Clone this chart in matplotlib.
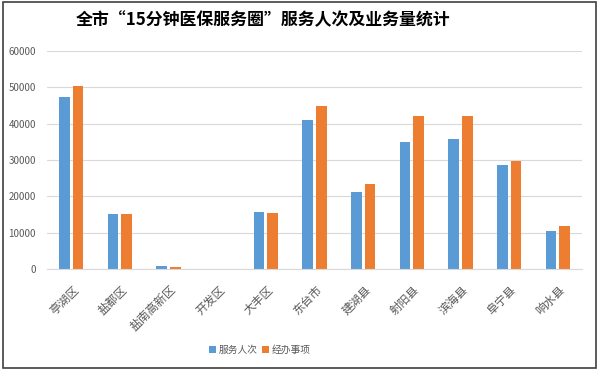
import numpy as np
import matplotlib.pyplot as plt
from matplotlib.patches import Rectangle

plt.rcParams['font.family'] = ['Noto Sans CJK SC', 'DejaVu Sans']

districts = ["亭湖区", "盐都区", "盐南高新区", "开发区", "大丰区", "东台市",
             "建湖县", "射阳县", "滨海县", "阜宁县", "响水县"]
service_count = [47300, 15100, 750, 0, 15650, 41050, 21100, 35000, 35800, 28550, 10400]
handled_items = [50350, 15100, 500, 0, 15400, 44850, 23450, 42150, 42150, 29700, 11850]
yticks = [0, 10000, 20000, 30000, 40000, 50000, 60000]

fig = plt.figure(figsize=(6, 3.71), dpi=100)
ax = fig.add_axes([47 / 600, 1 - 269 / 371, 535 / 600, 218 / 371])

x = np.arange(len(districts))
w = 0.22
ax.bar(x - 0.14, service_count, w, color="#5B9BD5", label="服务人次")
ax.bar(x + 0.14, handled_items, w, color="#ED7D31", label="经办事项")

ax.set_xlim(-0.5, len(districts) - 0.5)
ax.set_ylim(0, 60000)
ax.set_yticks(yticks)
ax.set_yticklabels([str(v) for v in yticks], fontsize=7, color="#595959")
ax.yaxis.grid(True, color="#d9d9d9", linewidth=0.8)
ax.set_axisbelow(True)
for s in ["top", "right", "left"]:
    ax.spines[s].set_visible(False)
ax.spines["bottom"].set_color("#d9d9d9")
ax.tick_params(length=0)
ax.tick_params(axis="y", pad=8)
ax.tick_params(axis="x", pad=10)

ax.set_xticks(x + 0.02)
ax.set_xticklabels(districts, rotation=45, ha="right", va="top",
                   rotation_mode="anchor", fontsize=8.5, color="#595959")

fig.text(263 / 600, 1 - 20 / 371, "全市“15分钟医保服务圈”服务人次及业务量统计",
         ha="center", va="center", fontsize=12.2, fontweight="bold", color="black")

fig.legend(loc="center", bbox_to_anchor=(260 / 600, 1 - 350 / 371), ncol=2,
           frameon=False, fontsize=7, handlelength=0.7, handleheight=0.7,
           columnspacing=0.4, handletextpad=0.3, labelcolor="#595959")

fig.patches.append(Rectangle((3 / 600, 3 / 371), 593 / 600, 366 / 371,
                             transform=fig.transFigure, fill=False,
                             edgecolor="#404040", linewidth=1.2))

fig.savefig("out.png", dpi=100)
